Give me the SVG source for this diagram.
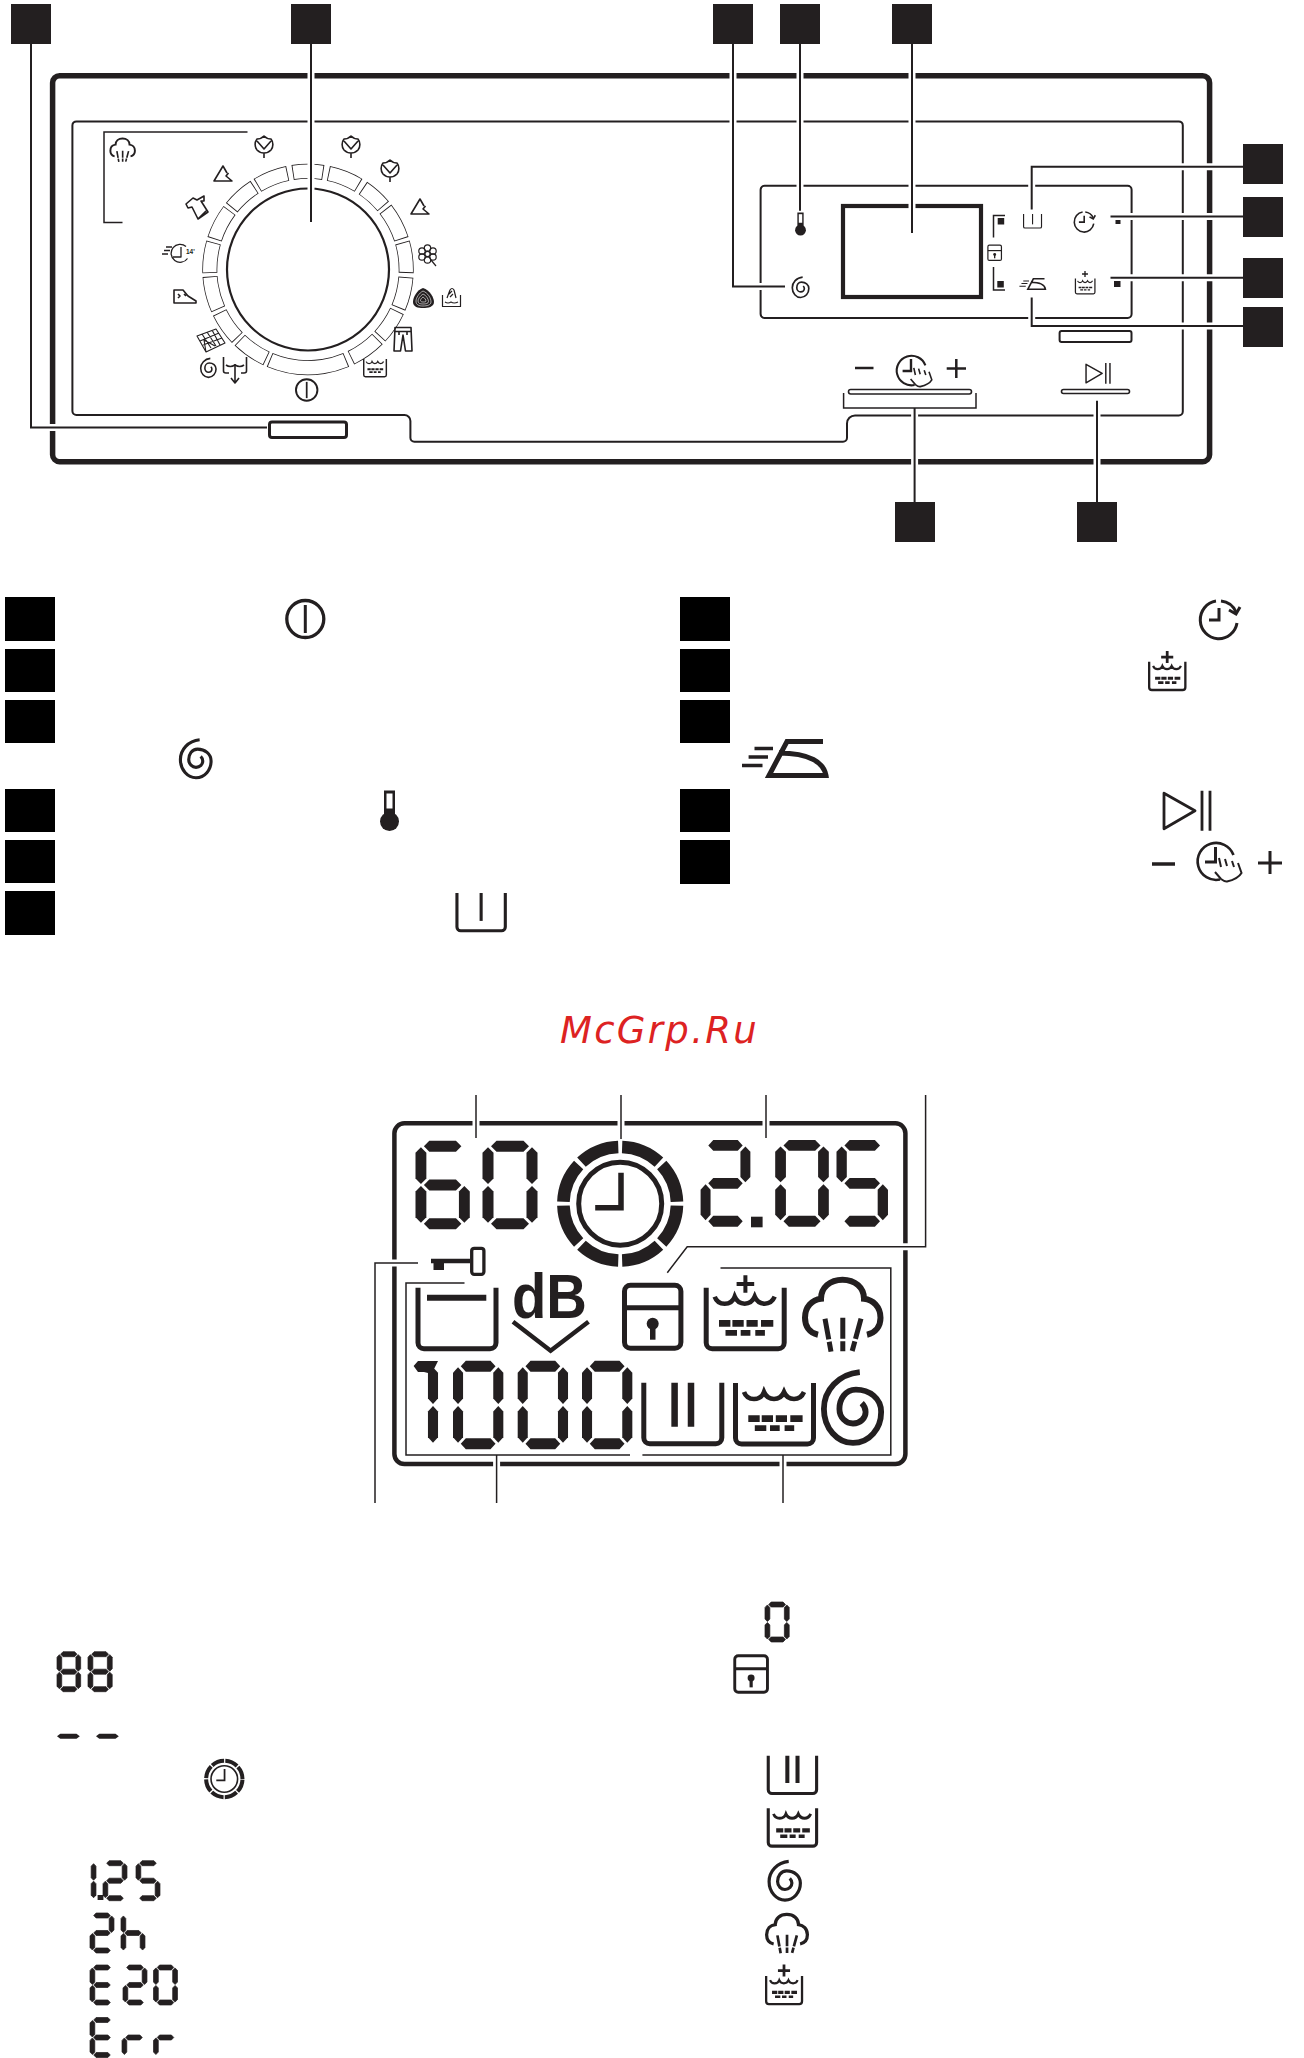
<svg xmlns="http://www.w3.org/2000/svg" width="1304" height="2058" viewBox="0 0 1304 2058">
<style>
.k{fill:#231f20}
.b{fill:#000}
.s{fill:none;stroke:#231f20;stroke-linecap:butt}
.halo{fill:none;stroke:#fff;stroke-width:7}
.con{fill:none;stroke:#231f20;stroke-width:2}
.thin{fill:none;stroke:#231f20;stroke-width:1.5}
.ic{fill:none;stroke:#231f20;stroke-width:1.6;stroke-linejoin:round}
.sm{stroke:#231f20;stroke-width:1.6}
</style>
<defs>
<polygon id="sh" points="0,5.5 5.5,0 32.5,0 38,5.5 32.5,11 5.5,11"/>
<polygon id="sv" points="5.5,0 11,5.5 11,31 5.5,36.5 0,31 0,5.5"/>
<g id="a"><use href="#sh" x="8.5" y="0"/></g>
<g id="g"><use href="#sh" x="8.5" y="38.5"/></g>
<g id="d"><use href="#sh" x="8.5" y="77"/></g>
<g id="f"><use href="#sv" x="0" y="6.5"/></g>
<g id="bb"><use href="#sv" x="44" y="6.5"/></g>
<g id="e"><use href="#sv" x="0" y="45"/></g>
<g id="c"><use href="#sv" x="44" y="45"/></g>
<g id="d0" class="k"><use href="#a"/><use href="#bb"/><use href="#c"/><use href="#d"/><use href="#e"/><use href="#f"/></g>
<g id="d1" class="k"><use href="#bb"/><use href="#c"/></g>
<g id="d2" class="k"><use href="#a"/><use href="#bb"/><use href="#g"/><use href="#e"/><use href="#d"/></g>
<g id="d5" class="k"><use href="#a"/><use href="#f"/><use href="#g"/><use href="#c"/><use href="#d"/></g>
<g id="d6" class="k"><use href="#a"/><use href="#f"/><use href="#g"/><use href="#e"/><use href="#c"/><use href="#d"/></g>
<g id="d8" class="k"><use href="#a"/><use href="#bb"/><use href="#f"/><use href="#g"/><use href="#e"/><use href="#c"/><use href="#d"/></g>
<g id="dE" class="k"><use href="#a"/><use href="#f"/><use href="#g"/><use href="#e"/><use href="#d"/></g>
<g id="dh" class="k"><use href="#f"/><use href="#g"/><use href="#e"/><use href="#c"/></g>
<g id="dr" class="k"><use href="#g"/><use href="#e"/></g>
<g id="clock">
<circle r="56.8" pathLength="360" fill="none" stroke="#231f20" stroke-width="12.6" stroke-dasharray="41 4" stroke-dashoffset="-2"/>
<circle r="41.5" fill="none" stroke="#231f20" stroke-width="5"/>
<path d="M.8-31V4H-25" fill="none" stroke="#231f20" stroke-width="5.500"/>
</g>
<path id="tub" d="M2.500 0V55a6 6 0 0 0 6 6H74.500a6 6 0 0 0 6-6V0" fill="none" stroke="#231f20" stroke-width="5"/>
<g id="marks">
<path d="M11 9Q13.500 16 21 16T31 9Q34 16 41 16T51 9Q54 16 61 16T71 9" fill="none" stroke="#231f20" stroke-width="4.600"/>
<path class="k" d="M15.300 32.300h11.400v6.700H15.300zM28.700 32.300h11.300v6.700H28.700zM42.800 32.300h11.200v6.700H42.800zM57.300 32.300h12.300v6.700H57.300zM21.800 42.300h11.500v5.700H21.800zM37 42.300h9.700v5.700H37zM51.600 42.300h9.600v5.700H51.600z"/>
</g>
<g id="tubw"><use href="#tub"/><use href="#marks"/></g>
<g id="tub2"><use href="#tub"/><path d="M33.300 0V44M49.700 0V44" fill="none" stroke="#231f20" stroke-width="6.500"/></g>
<g id="tub1"><use href="#tub"/><path d="M41.500 0V45" fill="none" stroke="#231f20" stroke-width="5"/></g>
<path id="spiral" d="M7-37C-15-35-30-18-30 1C-30 21-16 36 0 36C17 36 29 21 29 4C29-10 17-19 3-19C-8-19-14-9-14 1C-14 10-7 16 0 16C8 16 13 10 13 4C13 0 11-3 9-5" fill="none" stroke="#231f20" stroke-width="6"/>
<g id="steam" fill="none" stroke="#231f20">
<path stroke-width="6" d="M16 58C7 56 3 49 3 41C3 30 10 23 19 22C19 11 28 3 40.500 3C53 3 62 11 62 22C71 23 78.500 30 78.500 41C78.500 49 74 56 65 58"/>
<path stroke-width="5" stroke-dasharray="21 2.500 10" d="M23 42L29 75M40.800 41V75M59 42L50 75"/>
</g>
<g id="lock">
<rect x="2.500" y="2.500" width="56.400" height="63" rx="6" fill="none" stroke="#231f20" stroke-width="5"/>
<path d="M2.500 25H59" fill="none" stroke="#231f20" stroke-width="5"/>
<circle cx="30.700" cy="41" r="6" class="k"/><rect x="28" y="42" width="5.500" height="15" class="k"/>
</g>
<g id="power"><circle r="18.500" fill="none" stroke="#231f20" stroke-width="3.300"/><path d="M0-14V14" fill="none" stroke="#231f20" stroke-width="3"/></g>
<g id="therm"><rect x="-5.500" y="0" width="11" height="28" class="k"/><rect x="-3" y="3" width="6" height="15" fill="#fff"/><circle cy="31" r="9.500" class="k"/></g>
<g id="clockarrow" fill="none" stroke="#231f20" stroke-width="3">
<path d="M38 24A18.500 19 0 1 1 17 2"/><path d="M22 2A18.500 19 0 0 1 37 13"/><path d="M30 11L37 15L41 8"/><path d="M20 9V21H10"/>
</g>
<g id="clockhand" fill="none" stroke="#231f20" stroke-width="2.600">
<path d="M22 37.500A18.500 18.500 0 1 1 35.500 13"/><path d="M17.500 5V20H7" stroke-width="3"/>
<path d="M17 30L23 37Q27 40 29 39.500Q40 37 43.500 31L40 21M21 16L23 25M27 17L29 24M34 19L36 25" stroke-width="2"/>
</g>
<g id="iron" fill="none" stroke="#231f20">
<path stroke-width="5" d="M81 2.500H45L27 36.500H84C82 24 68 14 37 14"/>
<path stroke-width="3.400" d="M12.500 9.500H31M6.600 18H26M0 26.500H20.500"/>
</g>
<g id="play" fill="none" stroke="#231f20" stroke-width="2.800" stroke-linejoin="round">
<path d="M2 2.500L33 20L2 38Z"/><path d="M40 0V40M48 0V40"/>
</g>
<path id="plus" d="M-11 0H11M0-11V11" fill="none" stroke="#231f20" stroke-width="5"/>
<g id="cotton" class="ic"><path d="M10 1C12 3 14 4 17 4C19.500 7 19.500 12 17 15C15 17 12 18 10 18C8 18 5 17 3 15C.5 12 .5 7 3 4C6 4 8 3 10 1ZM3 6L10 14L17 6M10 18V23"/></g>
<path id="easy" class="ic" d="M14 8L10 1L1 16H19L13 11L15.500 8"/>
</defs>

<g id="panel-frame">
<rect x="52.600" y="75.700" width="1157" height="386" rx="7" fill="none" stroke="#231f20" stroke-width="5.500"/>
<path d="M76.400 121.400H1178.800a4 4 0 0 1 4 4V411.400a4 4 0 0 1-4 4H855a8 8 0 0 0-8 8V437.800a4 4 0 0 1-4 4H414.400a4 4 0 0 1-4-4V421a6 6 0 0 0-6-6H76.400a4 4 0 0 1-4-4V125.400a4 4 0 0 1 4-4Z" class="thin" style="stroke-width:2"/>
</g>

<g id="dial">
<circle cx="308" cy="269.500" r="81" fill="none" stroke="#231f20" stroke-width="2.200"/>
<circle cx="308" cy="269.500" r="98.200" pathLength="360" fill="none" stroke="#231f20" stroke-width="15" transform="rotate(-99 308 269.500)" stroke-dasharray="18 3 19 3 16 2 20 2 18 2.500 18.500 2 18 2 19 3 46 2 19 2 18 2 20 2 18 2 19 2 18 2 19 3"/>
<circle cx="308" cy="269.500" r="98.200" pathLength="360" fill="none" stroke="#fff" stroke-width="13.500" transform="rotate(-98.500 308 269.500)" stroke-dasharray="17 4 18 4 15 3 19 3 17 3.500 17.500 3 17 3 18 4 45 3 18 3 17 3 19 3 17 3 18 3 17 3 18 4"/>
</g>

<g id="control-box">
<rect x="760.600" y="185.700" width="371" height="132.300" rx="4" class="con"/>
<rect x="843" y="206" width="138" height="91" fill="none" stroke="#231f20" stroke-width="4.200"/>
</g>

<g id="lcd-box">
<rect x="394.400" y="1123.300" width="511" height="340.700" rx="10" fill="none" stroke="#231f20" stroke-width="4.500"/>
</g>

<g id="connector-halos" class="halo">
<path d="M31 44V427.500H267"/>
<path d="M311 44V222"/>
<path d="M733 44V286.400H785"/>
<path d="M800 44V210.700"/>
<path d="M912 44V233"/>
<path d="M1243 166.800H1031.700V209.600"/>
<path d="M1243 216.400H1110.500"/>
<path d="M1243 277.800H1110.500"/>
<path d="M1243 326H1031.700V297.500"/>
<path d="M914.600 408V502"/>
<path d="M1097 400.700V502"/>
<path d="M476 1095V1138"/>
<path d="M621 1095V1139"/>
<path d="M766 1095V1138"/>
<path d="M925.600 1095V1246.700H687.200L667.300 1272.700"/>
<path d="M375 1503V1263H418"/>
<path d="M496.600 1503V1455"/>
<path d="M783 1503V1455"/>
</g>
<g id="connectors">
<g class="con">
<path d="M31 44V427.500H267"/>
<path d="M311 44V222"/>
<path d="M733 44V286.400H785"/>
<path d="M800 44V210.700"/>
<path d="M912 44V233"/>
<path d="M1243 166.800H1031.700V209.600"/>
<path d="M1243 216.400H1110.500"/>
<path d="M1243 277.800H1110.500"/>
<path d="M1243 326H1031.700V297.500"/>
<path d="M914.600 408V502"/>
<path d="M1097 400.700V502"/>
</g>
<g class="thin">
<path d="M476 1095V1138"/>
<path d="M621 1095V1139"/>
<path d="M766 1095V1138"/>
<path d="M925.600 1095V1246.700H687.200L667.300 1272.700"/>
<path d="M375 1503V1263H418"/>
<path d="M496.600 1503V1455"/>
<path d="M783 1503V1455"/>
<path d="M464.500 1283H406V1455H630"/>
<path d="M642.400 1455H890.800V1268H720.500"/>
<path d="M247.500 132H104V222.500H122.500"/>
<path d="M993.500 237.500V215.500H1005"/>
<path d="M993.500 267V290H1005"/>
<path d="M843.600 393V408H976V393"/>
</g>
</g>

<g id="callouts-top" class="k">
<rect id="callout-a" x="11" y="4" width="40" height="40"/>
<rect id="callout-b" x="291" y="4" width="40" height="40"/>
<rect id="callout-c" x="713" y="4" width="40" height="40"/>
<rect id="callout-d" x="780" y="4" width="40" height="40"/>
<rect id="callout-e" x="892" y="4" width="40" height="40"/>
<rect id="callout-f" x="1243" y="144" width="40" height="40"/>
<rect id="callout-g" x="1243" y="197" width="40" height="40"/>
<rect id="callout-h" x="1243" y="258" width="40" height="40"/>
<rect id="callout-i" x="1243" y="307" width="40" height="40"/>
<rect id="callout-j" x="895" y="502" width="40" height="40"/>
<rect id="callout-k" x="1077" y="502" width="40" height="40"/>
</g>

<g id="panel-buttons">
<rect x="269.500" y="422" width="77" height="15.500" rx="2.500" fill="none" stroke="#231f20" stroke-width="3"/>
<rect x="1059.600" y="331" width="71.900" height="11" rx="2" class="con"/>
<rect x="848.500" y="389.500" width="123" height="4.500" rx="2.200" fill="none" stroke="#231f20" stroke-width="1.600"/>
<rect x="1061.500" y="389.500" width="68" height="4" rx="2" fill="none" stroke="#231f20" stroke-width="1.600"/>
</g>

<g id="dial-icons">
<use href="#steam" transform="translate(109.400 137.500) scale(.325)"/>
<use href="#cotton" x="254" y="135"/>
<use href="#cotton" x="341" y="135"/>
<use href="#cotton" x="380" y="159"/>
<use href="#easy" x="213" y="165"/>
<use href="#easy" x="410" y="198"/>
<path class="ic" d="M193 198L197 200L204 196L204 201L201 201L208 212L198 219L192 207L188 208L186 204ZM198 219L207 210"/>
<g class="ic" style="stroke-width:1.300"><path d="M166 247H172M164 250.500H170M162 254H168"/><path d="M187.500 258.500A9 9 0 1 1 186 246.500"/><path d="M181 247V257H173"/></g>
<text x="186" y="254" font-family="'Liberation Sans',Arial,sans-serif" font-size="6.500" font-weight="700" fill="#231f20">14'</text>
<path class="ic" d="M174 290H183L188 296L196 301V303H174ZM178 294L180 296L178 298M184 294L186 296"/>
<g class="ic" style="stroke-width:1.100"><path d="M197 336L216 329L225 343L206 352ZM202 334L211 348M207 332L216 346M212 330L220 345M200 341L219 333M203 345L222 338M206 352L204 340L215 346"/></g>
<use href="#spiral" transform="translate(208.500 368) scale(.26)"/>
<g class="ic"><path d="M223.500 357V371Q223.500 373 226 373H229M246.500 357V371Q246.500 373 244 373H241"/><path d="M226 365Q230 368 235 365Q240 368 244 365"/><path d="M235 364V383M231 378L235 383L239 378"/></g>
<use href="#power" transform="translate(306.700 390) scale(.58)"/>
<use href="#tubw" transform="translate(363 359) scale(.29)"/>
<path class="ic" d="M395 327.500H411L412 351H405.500L403 335L400.500 351H394ZM395 331.500H411M399 331.500L399 335M407 331.500V335"/>
<g id="wool"><path class="k" d="M423 288C430 290 434 298 434 302C434 307 428 308 423 308C418 308 413 307 413 302C413 297 417 290 423 288Z"/><path d="M423 291C428 293 431 298 431 302C431 305 427 306 423 306C419 306 416 305 416 301C416 298 419 293 423 291ZM423 294C426 295 428.500 299 428.500 301.500C428.500 303.500 426 304 423 304C420 304 418 303.500 418 301C418 299 420 296 423 294ZM423 297C425 298 426 300 426 301C426 302 424.500 302 423 302C421.500 302 420.500 301.500 420.500 300.500C420.500 299.500 421.500 298 423 297Z" fill="none" stroke="#fff" stroke-width=".6"/></g>
<g class="ic" style="stroke-width:1.200"><path d="M442.500 295V306.500H460.500V295"/><path d="M445 302Q448 304 451 302Q454 304 458 302"/><path d="M447 298L450 290Q452 287 454 290L456 298M449 294L452 291M450 297L453 294"/></g>
<g class="ic" style="stroke-width:1.200" fill="#fff"><circle cx="427.500" cy="248" r="3.200"/><circle cx="433" cy="251" r="3.200"/><circle cx="433" cy="257" r="3.200"/><circle cx="427.500" cy="260" r="3.200"/><circle cx="422" cy="257" r="3.200"/><circle cx="422" cy="251" r="3.200"/><circle cx="427.500" cy="254" r="2.600"/><path d="M431 260L436 266"/></g>
</g>

<g id="panel-icons">
<use href="#therm" transform="translate(800.500 212.500) scale(.57)"/>
<use href="#spiral" transform="translate(800.700 287.400) scale(.28)"/>
<use href="#lock" transform="translate(987.300 244.600) scale(.24)"/>
<rect x="997.700" y="218" width="6.500" height="6.500" class="k"/>
<rect x="997.300" y="281" width="6.500" height="6.500" class="k"/>
<use href="#tub1" transform="translate(1023 214) scale(.23)"/>
<use href="#clockarrow" transform="translate(1073.600 211) scale(.53)"/>
<rect x="1115.500" y="220" width="5" height="4" class="k"/>
<use href="#iron" transform="translate(1019.400 278) scale(.31)"/>
<use href="#tubw" transform="translate(1074.800 278.600) scale(.25)"/>
<use href="#plus" transform="translate(1085 274) scale(.27)"/>
<rect x="1114" y="281" width="6.500" height="6" class="k"/>
<path d="M855 368H873.500" class="s" stroke-width="2.500"/>
<use href="#clockhand" transform="translate(897 355) scale(.8)"/>
<path d="M946.700 368.600H966M956.300 359V378" class="s" stroke-width="2.500"/>
<use href="#play" transform="translate(1085 363) scale(.52)"/>
</g>

<g id="legend-left">
<g class="b">
<rect x="5" y="597" width="50" height="44"/>
<rect x="5" y="649" width="50" height="43"/>
<rect x="5" y="700" width="50" height="43"/>
<rect x="5" y="789" width="50" height="43"/>
<rect x="5" y="840" width="50" height="43"/>
<rect x="5" y="891" width="50" height="44"/>
</g>
<use href="#power" transform="translate(305.300 619)"/>
<use href="#spiral" transform="translate(196 759) scale(.52)"/>
<use href="#therm" transform="translate(389.500 790.500)"/>
<use href="#tub1" transform="translate(455.400 893) scale(.62)"/>
</g>

<g id="legend-right">
<g class="b">
<rect x="680" y="597" width="50" height="44"/>
<rect x="680" y="649" width="50" height="43"/>
<rect x="680" y="700" width="50" height="43"/>
<rect x="680" y="789" width="50" height="43"/>
<rect x="680" y="840" width="50" height="44"/>
</g>
<use href="#clockarrow" transform="translate(1199 599)"/>
<use href="#tubw" transform="translate(1148 661.700) scale(.464)"/>
<use href="#plus" transform="translate(1167.200 657) scale(.55)"/>
<use href="#iron" transform="translate(742 739)"/>
<use href="#play" transform="translate(1162 790.700)"/>
<path d="M1152 864H1175" class="s" stroke-width="3.500"/>
<use href="#clockhand" transform="translate(1198 842)"/>
<path d="M1258 863H1282M1270 851V874" class="s" stroke-width="3"/>
</g>

<text id="watermark" x="560" y="1043" font-family="'DejaVu Sans',sans-serif" font-style="italic" font-size="37" letter-spacing="2.300" fill="#dd2222">McGrp.Ru</text>

<g id="lcd">
<use href="#d6" transform="translate(415.500 1140.700) scale(.987 1.006)"/>
<use href="#d0" transform="translate(482.500 1140.700) scale(1 1.006)"/>
<use href="#clock" transform="translate(620.200 1203.700)"/>
<use href="#d2" transform="translate(700.600 1140) scale(.905 .985)"/>
<rect x="751" y="1216.700" width="11.600" height="10.600" class="k"/>
<use href="#d0" transform="translate(775.200 1140) scale(.975 .985)"/>
<use href="#d5" transform="translate(836.500 1140) scale(.936 .985)"/>
<path d="M431 1261H470" class="s" stroke-width="4.500"/>
<rect x="433.500" y="1261" width="10.500" height="9" class="k"/>
<rect x="471.700" y="1248.300" width="12.200" height="26" rx="2.500" fill="none" stroke="#231f20" stroke-width="3.300"/>
<use href="#tub" transform="translate(415.500 1287.700)"/>
<path d="M427 1297.700H486.300" class="s" stroke-width="6"/>
<text x="512" y="1318" font-family="'Liberation Sans',Arial,sans-serif" font-size="63" font-weight="700" fill="#231f20" textLength="75" lengthAdjust="spacingAndGlyphs">dB</text>
<path d="M513 1321.700L550.600 1350.700L588.500 1321.700" class="s" stroke-width="4.500"/>
<use href="#lock" transform="translate(622 1282.700)"/>
<use href="#tubw" transform="translate(703.700 1287.700)"/>
<use href="#plus" transform="translate(745.400 1284) scale(.8)"/>
<use href="#steam" transform="translate(802 1276.700)"/>
<use href="#d1" transform="translate(387.700 1360.700) scale(.915 1.006)"/>
<polygon class="k" points="413.600,1366 418,1361 438,1361 432,1373 428,1373 424,1372 418,1372"/>
<use href="#d0" transform="translate(453 1360.700) scale(.915 1.006)"/>
<use href="#d0" transform="translate(517.700 1360.700) scale(.915 1.006)"/>
<use href="#d0" transform="translate(582 1360.700) scale(.915 1.006)"/>
<use href="#tub2" transform="translate(641.300 1382.700)"/>
<use href="#tubw" transform="translate(733 1383)"/>
<use href="#spiral" transform="translate(853 1408) scale(.97)"/>
</g>

<g id="legend-lcd-left">
<use href="#d8" class="sm" transform="translate(57 1651.700) scale(.43 .4545)"/>
<use href="#d8" class="sm" transform="translate(88 1651.700) scale(.44 .4545)"/>
<use href="#sh" class="k" transform="translate(57 1733.700) scale(.6 .45)"/>
<use href="#sh" class="k" transform="translate(96 1733.700) scale(.6 .45)"/>
<use href="#clock" transform="translate(224.300 1779) scale(.32)"/>
<use href="#d1" class="sm" transform="translate(72 1860.700) scale(.436 .4545)"/>
<rect x="97.600" y="1895" width="5.800" height="5" class="k"/>
<use href="#d2" class="sm" transform="translate(103 1860.700) scale(.436 .4545)"/>
<use href="#d5" class="sm" transform="translate(136 1860.700) scale(.436 .4545)"/>
<use href="#d2" class="sm" transform="translate(90 1913) scale(.436 .4545)"/>
<use href="#dh" class="sm" transform="translate(121 1913) scale(.436 .4545)"/>
<use href="#dE" class="sm" transform="translate(90 1965) scale(.436 .4545)"/>
<use href="#d2" class="sm" transform="translate(123 1965) scale(.436 .4545)"/>
<use href="#d0" class="sm" transform="translate(153.500 1965) scale(.436 .4545)"/>
<use href="#dE" class="sm" transform="translate(90 2017.500) scale(.436 .4545)"/>
<use href="#dr" class="sm" transform="translate(122 2017.500) scale(.436 .4545)"/>
<use href="#dr" class="sm" transform="translate(153.500 2017.500) scale(.436 .4545)"/>
</g>

<g id="legend-lcd-right">
<use href="#d0" class="sm" transform="translate(765 1602) scale(.44 .4545)"/>
<use href="#lock" transform="translate(733.300 1654.300) scale(.58)"/>
<use href="#tub2" transform="translate(766.700 1755.700) scale(.62)"/>
<use href="#tubw" transform="translate(766.700 1808.300) scale(.62)"/>
<use href="#spiral" transform="translate(785 1881) scale(.53)"/>
<use href="#steam" transform="translate(765 1912.700) scale(.54)"/>
<use href="#tubw" transform="translate(765 1976) scale(.46)"/>
<use href="#plus" transform="translate(784 1970.500) scale(.55)"/>
</g>
</svg>
